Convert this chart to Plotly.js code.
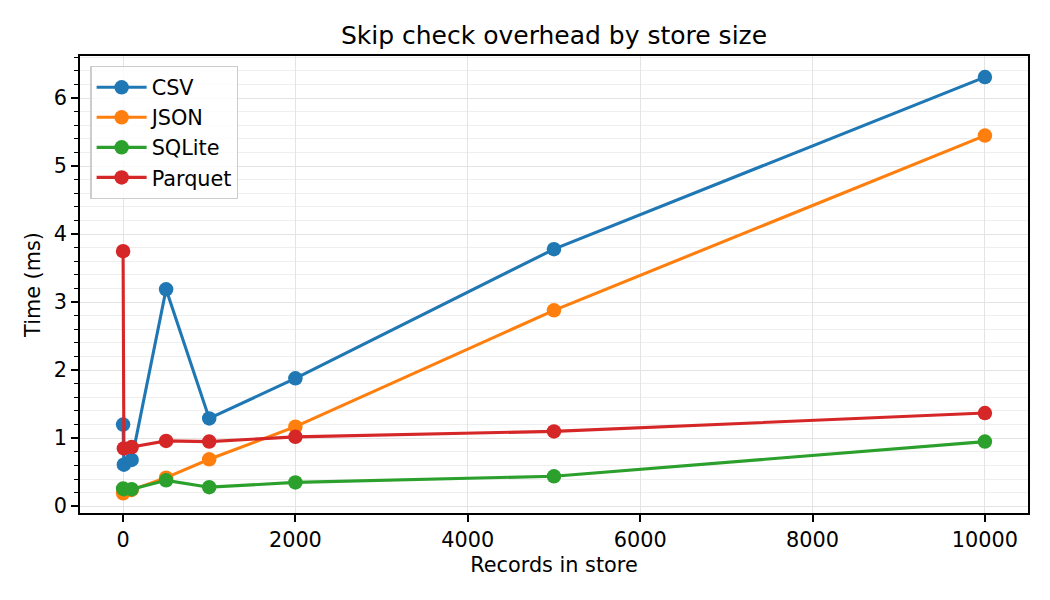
<!DOCTYPE html>
<html>
<head>
<meta charset="utf-8">
<script src="https://cdn.plot.ly/plotly-3.0.1.min.js"></script>
<style>
  html, body { margin: 0; padding: 0; background: #fff; }
  #chart { width: 1050px; height: 600px; }
</style>
</head>
<body>
<div id="chart"></div>
<script>
// records in store (x) and skip check time in ms per backend
var records = [1, 10, 100, 500, 1000, 2000, 5000, 10000];
var csvTimes = [1.20, 0.61, 0.68, 3.19, 1.29, 1.88, 3.78, 6.31];
var jsonTimes = [0.19, 0.21, 0.24, 0.42, 0.69, 1.17, 2.88, 5.45];
var sqliteTimes = [0.26, 0.25, 0.25, 0.38, 0.28, 0.35, 0.44, 0.95];
var parquetTimes = [3.75, 0.85, 0.87, 0.96, 0.95, 1.02, 1.10, 1.37];
var seriesNames = ['CSV', 'JSON', 'SQLite', 'Parquet'];
var xTicks = [0, 2000, 4000, 6000, 8000, 10000];
var yTicks = [0, 1, 2, 3, 4, 5, 6];

var colors = ['#1f77b4', '#ff7f0e', '#2ca02c', '#d62728'];
var font = 'DejaVu Sans, sans-serif';

function makeTrace(y, i) {
    return {
        x: records,
        y: y,
        name: seriesNames[i],
        type: 'scatter',
        mode: 'lines+markers',
        line: {color: colors[i], width: 3.1},
        marker: {color: colors[i], size: 14.5}
    }
}

var traces = [csvTimes, jsonTimes, sqliteTimes, parquetTimes].map(makeTrace);

var layout = {
    width: 1050,
    height: 600,
    margin: {l: 80, r: 22, t: 56, b: 87},
    paper_bgcolor: '#ffffff',
    plot_bgcolor: '#ffffff',
    font: {family: font, size: 20.8, color: '#000000'},
    title: {
        text: 'Skip check overhead by store size',
        font: {family: font, size: 25, color: '#000000'},
        x: 0.5, xref: 'paper', xanchor: 'center',
        y: 1 - 35 / 600, yref: 'container', yanchor: 'middle'
    },
    xaxis: {
        range: [-499, 10500],
        tickvals: xTicks,
        ticktext: xTicks.map(String),
        ticks: 'outside', ticklen: 7, tickwidth: 1.6, tickcolor: '#000',
        showline: true, mirror: true, linecolor: '#000', linewidth: 1.6,
        showgrid: true, gridcolor: '#e4e4e4', gridwidth: 1.2,
        zeroline: false,
        tickfont: {size: 20.8},
        title: {text: 'Records in store', font: {size: 20.8}, standoff: 7}
    },
    yaxis: {
        range: [-0.1, 6.62],
        tickvals: yTicks,
        ticktext: yTicks.map(String),
        ticks: 'outside', ticklen: 7, tickwidth: 1.6, tickcolor: '#000',
        showline: true, mirror: true, linecolor: '#000', linewidth: 1.6,
        showgrid: true, gridcolor: '#e4e4e4', gridwidth: 1.2,
        zeroline: false,
        tickfont: {size: 20.8},
        minor: {dtick: 0.2, ticks: 'outside', ticklen: 4, tickwidth: 1.2, tickcolor: '#000',
                showgrid: true, gridcolor: '#eeeeee', gridwidth: 1.2},
        title: {text: 'Time (ms)', font: {size: 20.8}, standoff: 8}
    },
    showlegend: true,
    legend: {
        x: 0.011, y: 0.978, xanchor: 'left', yanchor: 'top',
        bgcolor: 'rgba(255,255,255,0.8)',
        bordercolor: '#cccccc', borderwidth: 1.2,
        font: {family: font, size: 20.8},
        itemwidth: 50
    }
};

Plotly.newPlot(document.getElementById('chart'), traces, layout, {displayModeBar: false});
</script>
</body>
</html>
